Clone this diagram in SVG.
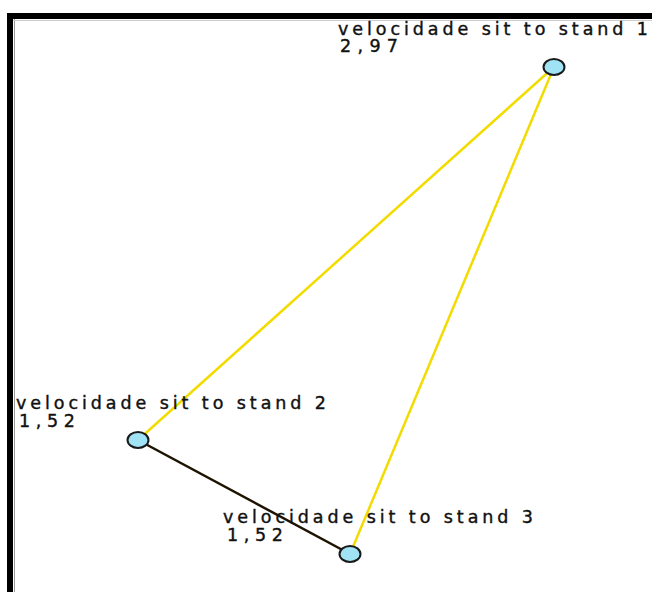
<svg xmlns="http://www.w3.org/2000/svg" width="652" height="592" viewBox="0 0 652 592">
<style>
.lbl{font-family:"DejaVu Sans",Verdana,sans-serif;font-size:17.5px;fill:#111;stroke:#111;stroke-width:0.4}
.node{fill:#9fe3f5;stroke:#1a1a1a;stroke-width:2}
.y{stroke:#f2dc00;stroke-width:2.5}
.k{stroke:#1e1200;stroke-width:2.5}
</style>
<rect x="0" y="0" width="652" height="592" fill="#fff"/>
<g id="frame">
<rect x="7" y="13" width="645" height="6" fill="#000"/>
<rect x="7" y="13" width="6" height="579" fill="#000"/>
<line x1="14.5" y1="19" x2="14.5" y2="592" stroke="#999" stroke-width="1"/>
<line x1="13" y1="20.5" x2="652" y2="20.5" stroke="#ccc" stroke-width="1"/>
</g>
<g id="connectors">
<line class="y" x1="554" y1="67" x2="138" y2="440"/>
<line class="y" x1="554" y1="67" x2="350" y2="554"/>
<line class="k" x1="138" y1="440" x2="350" y2="554"/>
</g>
<g id="node1">
<ellipse class="node" cx="554" cy="67" rx="10.5" ry="8"/>
<text class="lbl" x="338" y="35" textLength="310" lengthAdjust="spacing">velocidade sit to stand 1</text>
<text class="lbl" x="340" y="52" textLength="58" lengthAdjust="spacing">2,97</text>
</g>
<g id="node2">
<ellipse class="node" cx="138" cy="440" rx="10.5" ry="8"/>
<text class="lbl" x="16" y="409" textLength="310" lengthAdjust="spacing">velocidade sit to stand 2</text>
<text class="lbl" x="19" y="427" textLength="56" lengthAdjust="spacing">1,52</text>
</g>
<g id="node3">
<ellipse class="node" cx="350" cy="554" rx="10.5" ry="8"/>
<text class="lbl" x="223" y="523" textLength="310" lengthAdjust="spacing">velocidade sit to stand 3</text>
<text class="lbl" x="227" y="541" textLength="56" lengthAdjust="spacing">1,52</text>
</g>
</svg>
